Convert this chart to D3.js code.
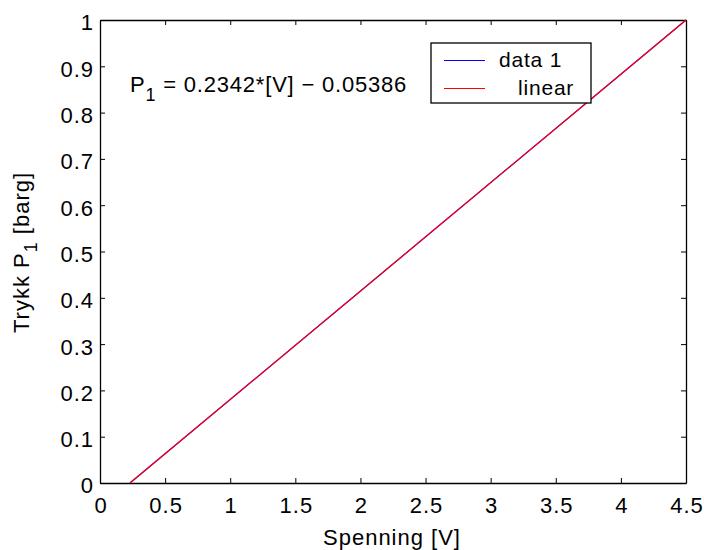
<!DOCTYPE html>
<html>
<head>
<meta charset="utf-8">
<script src="https://cdn.jsdelivr.net/npm/d3@7"></script>
<style>
  body { margin: 0; background: #fff; }
  text { font-family: "Liberation Sans", Arial, sans-serif; fill: #000; }
</style>
</head>
<body>
<div id="chart"></div>
<script>
// measured data (Spenning [V] vs Trykk P1 [barg])
const dataV = [0.23, 4.5]
const dataP = [0.0, 1.0]
// linear fit line
const fitV = [0.23, 4.5]
const fitP = [0.0, 1.0]
const xTicks = [0, 0.5, 1, 1.5, 2, 2.5, 3, 3.5, 4, 4.5]
const yTicks = [0, 0.1, 0.2, 0.3, 0.4, 0.5, 0.6, 0.7, 0.8, 0.9, 1]
const legendNames = ['data 1', 'linear']
const legendColors = ['#0000ff', '#ff0000']

const width = 704, height = 550
const margin = {top: 20, right: 18, bottom: 67, left: 100}
const w = width - margin.left - margin.right,
  h = height - margin.top - margin.bottom

const svg = d3.select('#chart').append('svg')
  .attr('width', width)
  .attr('height', height)
const g = svg.append('g')
  .attr('transform', `translate(${margin.left}, ${margin.top})`)

const x = d3.scaleLinear().domain([0, 4.5]).range([0, w])
const y = d3.scaleLinear().domain([0, 1]).range([h, 0])

const fmt = d => d3.format('')(d)
const fontStyle = (sel, size = 22, ls = 1) => sel
  .style('font-size', size + 'px')
  .style('letter-spacing', ls + 'px')
  .style('font-family', '"Liberation Sans", Arial, sans-serif')

// axes, MATLAB box style with inward ticks
const xa = g.append('g').attr('transform', `translate(0, ${h})`)
  .call(d3.axisBottom(x).tickValues(xTicks).tickSizeInner(-5).tickSizeOuter(0).tickPadding(14).tickFormat(fmt))
g.append('g').call(d3.axisTop(x).tickValues(xTicks).tickSizeInner(-5).tickSizeOuter(0).tickFormat(''))
const ya = g.append('g').call(d3.axisLeft(y).tickValues(yTicks).tickSizeInner(-5).tickSizeOuter(0).tickPadding(6).tickFormat(fmt))
g.append('g').attr('transform', `translate(${w}, 0)`)
  .call(d3.axisRight(y).tickValues(yTicks).tickSizeInner(-5).tickSizeOuter(0).tickFormat(''))
g.selectAll('.domain').attr('stroke', '#000').attr('stroke-width', 1.3)
g.selectAll('.tick line').attr('stroke', '#000').attr('stroke-width', 1)
g.selectAll('.tick text').attr('fill', '#000').call(fontStyle)
xa.selectAll('.tick text').attr('dx', '0.5px')
ya.selectAll('.tick text').attr('dy', '0.45em')

const line = d3.line().x(d => x(d[0])).y(d => y(d[1]))
g.append('path')
  .datum(d3.zip(dataV, dataP))
  .attr('d', line)
  .attr('fill', 'none')
  .attr('stroke', legendColors[0])
  .attr('stroke-width', 1.2)
g.append('path')
  .datum(d3.zip(fitV, fitP))
  .attr('d', line)
  .attr('fill', 'none')
  .attr('stroke', legendColors[1])
  .attr('stroke-width', 1.2)

// equation annotation
const eq = svg.append('text')
  .attr('x', 130)
  .attr('y', 92)
  .style('font-size', '22px')
  .style('letter-spacing', '0.8px')
eq.append('tspan').text('P')
eq.append('tspan').attr('dy', 9).style('font-size', '18px').text('1')
eq.append('tspan').attr('dy', -9).text(' = 0.2342*[V] \u2212 0.05386')

// legend
const lg = svg.append('g').attr('transform', 'translate(431, 43)')
lg.append('rect')
  .attr('width', 160).attr('height', 60)
  .attr('fill', '#fff').attr('stroke', '#000').attr('stroke-width', 1.3)
legendNames.forEach((name, i) => {
  const yy = 17 + i * 28
  lg.append('line')
    .attr('x1', 13).attr('x2', 54)
    .attr('y1', yy + 0.5).attr('y2', yy + 0.5)
    .attr('stroke', legendColors[i]).attr('stroke-width', 1.2)
  lg.append('text')
    .attr('x', i === 0 ? 68 : 87)
    .attr('y', yy + 7)
    .call(fontStyle, 21, 0.8)
    .text(name)
})

// axis labels
svg.append('text')
  .attr('x', margin.left + w / 2 - 1)
  .attr('y', 545)
  .attr('text-anchor', 'middle')
  .call(fontStyle)
  .text('Spenning [V]')
const yl = svg.append('text')
  .attr('transform', `translate(29, ${margin.top + h / 2 + 1}) rotate(-90)`)
  .attr('text-anchor', 'middle')
  .call(fontStyle)
yl.append('tspan').text('Trykk P')
yl.append('tspan').attr('dy', 8).style('font-size', '18px').text('1')
yl.append('tspan').attr('dy', -8).text(' [barg]')
</script>
</body>
</html>
